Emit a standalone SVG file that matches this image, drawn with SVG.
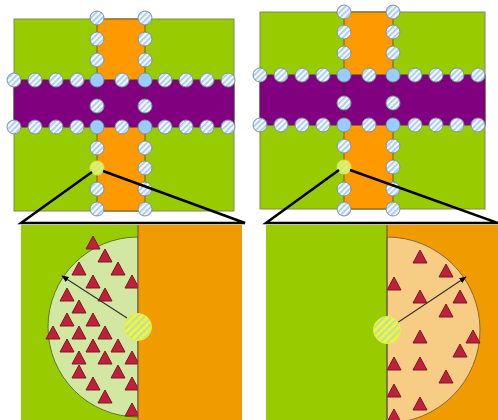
<svg xmlns="http://www.w3.org/2000/svg" xmlns:xlink="http://www.w3.org/1999/xlink" width="498" height="420" viewBox="0 0 498 420">
<style>
.green{fill:#99cc00;stroke:#7a8a5a;stroke-width:1}
.orange{fill:#ff9900;stroke:#6a5a30;stroke-width:1}
.orange2{fill:#f09b00}
.purple{fill:#800080;stroke:#4a2a4a;stroke-width:1}
.node{fill:url(#hatch);stroke:#8090a0;stroke-width:1}
.solid{fill:#99ccff;stroke:#8090a0;stroke-width:1}
.ysmall{fill:url(#yhatchS);stroke:#d8e860;stroke-width:1}
.ybig{fill:url(#yhatch);stroke:#e8f040;stroke-width:1}
.zoom{stroke:#000;stroke-width:2.5;fill:none}
.tri{fill:#c0203c;stroke:#7a1a24;stroke-width:1}
.arrow{stroke:#333;stroke-width:1.2;fill:none;marker-end:url(#ah)}
</style>
<defs>
<pattern id="hatch" patternUnits="userSpaceOnUse" width="4" height="4" patternTransform="rotate(-45)">
<rect width="4" height="4" fill="#f4f8ff"/>
<rect width="4" height="1.8" fill="#a9cdea"/>
</pattern>
<pattern id="yhatchS" patternUnits="userSpaceOnUse" width="4" height="4" patternTransform="rotate(-45)">
<rect width="4" height="4" fill="#e8f060"/>
<rect width="4" height="1.8" fill="#c8e880"/>
</pattern>
<pattern id="yhatch" patternUnits="userSpaceOnUse" width="5" height="5" patternTransform="rotate(-45)">
<rect width="5" height="5" fill="#f4f43a"/>
<rect width="5" height="2.2" fill="#b8e0a8"/>
</pattern>
<marker id="ah" viewBox="0 0 10 10" refX="9" refY="5" markerWidth="6" markerHeight="6" orient="auto">
<path d="M0,1 L10,5 L0,9 Z" fill="#000"/>
</marker>
<path id="t" d="M0,-7 L7,6 L-7,6 Z"/>
</defs>

<g id="top-left">
<rect class="green" x="14" y="19" width="220" height="192"/>
<rect class="orange" x="97" y="19" width="48" height="192"/>
<rect class="purple" x="14" y="80" width="220" height="47"/>
<line x1="97" y1="80" x2="97" y2="127" stroke="#3a2a3a" stroke-width="1"/>
<line x1="145" y1="80" x2="145" y2="127" stroke="#3a2a3a" stroke-width="1"/>
<g id="tl-nodes">
<circle class="node" cx="97" cy="18" r="7"/><circle class="node" cx="97" cy="39" r="7"/><circle class="node" cx="97" cy="60" r="7"/>
<circle class="node" cx="97" cy="106" r="7"/><circle class="node" cx="97" cy="148" r="7"/><circle class="node" cx="97" cy="189" r="7"/><circle class="node" cx="97" cy="209" r="7"/>
<circle class="node" cx="145" cy="18" r="7"/><circle class="node" cx="145" cy="39" r="7"/><circle class="node" cx="145" cy="60" r="7"/>
<circle class="node" cx="145" cy="106" r="7"/><circle class="node" cx="145" cy="148" r="7"/><circle class="node" cx="145" cy="168" r="7"/><circle class="node" cx="145" cy="189" r="7"/><circle class="node" cx="145" cy="209" r="7"/>
<circle class="node" cx="14" cy="80" r="7"/><circle class="node" cx="35" cy="80" r="7"/><circle class="node" cx="56" cy="80" r="7"/><circle class="node" cx="77" cy="80" r="7"/><circle class="node" cx="122" cy="80" r="7"/><circle class="node" cx="165" cy="80" r="7"/><circle class="node" cx="186" cy="80" r="7"/><circle class="node" cx="207" cy="80" r="7"/><circle class="node" cx="228" cy="80" r="7"/>
<circle class="node" cx="14" cy="127" r="7"/><circle class="node" cx="35" cy="127" r="7"/><circle class="node" cx="56" cy="127" r="7"/><circle class="node" cx="77" cy="127" r="7"/><circle class="node" cx="122" cy="127" r="7"/><circle class="node" cx="165" cy="127" r="7"/><circle class="node" cx="186" cy="127" r="7"/><circle class="node" cx="207" cy="127" r="7"/><circle class="node" cx="228" cy="127" r="7"/>
<circle class="solid" cx="97" cy="80" r="7"/><circle class="solid" cx="145" cy="80" r="7"/><circle class="solid" cx="97" cy="127" r="7"/><circle class="solid" cx="145" cy="127" r="7"/>
<circle class="ysmall" cx="97" cy="168" r="7"/>
</g>
</g>

<g id="top-right">
<rect class="green" x="260" y="12" width="225" height="197"/>
<rect class="orange" x="344" y="12" width="49" height="197"/>
<rect class="purple" x="260" y="75" width="225" height="50"/>
<line x1="344" y1="75" x2="344" y2="125" stroke="#3a2a3a" stroke-width="1"/>
<line x1="393" y1="75" x2="393" y2="125" stroke="#3a2a3a" stroke-width="1"/>
<g id="tr-nodes">
<circle class="node" cx="344" cy="12" r="7"/><circle class="node" cx="344" cy="32" r="7"/><circle class="node" cx="344" cy="53" r="7"/>
<circle class="node" cx="344" cy="103" r="7"/><circle class="node" cx="344" cy="146" r="7"/><circle class="node" cx="344" cy="189" r="7"/><circle class="node" cx="344" cy="209" r="7"/>
<circle class="node" cx="393" cy="12" r="7"/><circle class="node" cx="393" cy="32" r="7"/><circle class="node" cx="393" cy="53" r="7"/>
<circle class="node" cx="393" cy="103" r="7"/><circle class="node" cx="393" cy="146" r="7"/><circle class="node" cx="393" cy="167" r="7"/><circle class="node" cx="393" cy="189" r="7"/><circle class="node" cx="393" cy="209" r="7"/>
<circle class="node" cx="260" cy="75" r="7"/><circle class="node" cx="281" cy="75" r="7"/><circle class="node" cx="302" cy="75" r="7"/><circle class="node" cx="323" cy="75" r="7"/><circle class="node" cx="369" cy="75" r="7"/><circle class="node" cx="415" cy="75" r="7"/><circle class="node" cx="436" cy="75" r="7"/><circle class="node" cx="457" cy="75" r="7"/><circle class="node" cx="478" cy="75" r="7"/>
<circle class="node" cx="260" cy="125" r="7"/><circle class="node" cx="281" cy="125" r="7"/><circle class="node" cx="302" cy="125" r="7"/><circle class="node" cx="323" cy="125" r="7"/><circle class="node" cx="369" cy="125" r="7"/><circle class="node" cx="415" cy="125" r="7"/><circle class="node" cx="436" cy="125" r="7"/><circle class="node" cx="457" cy="125" r="7"/><circle class="node" cx="478" cy="125" r="7"/>
<circle class="solid" cx="344" cy="75" r="7"/><circle class="solid" cx="393" cy="75" r="7"/><circle class="solid" cx="344" cy="125" r="7"/><circle class="solid" cx="393" cy="125" r="7"/>
<circle class="ysmall" cx="344" cy="167" r="7"/>
</g>
</g>

<g id="bottom-left">
<rect fill="#99cc00" x="21" y="225" width="117" height="195"/>
<path d="M138,237 A90,90 0 0 0 138,417 Z" fill="#d2e8a2" stroke="#5a7a2a" stroke-width="1"/>
<g id="bl-tris">
<use href="#t" class="tri" x="93" y="243"/><use href="#t" class="tri" x="105" y="256"/><use href="#t" class="tri" x="79" y="269"/><use href="#t" class="tri" x="118" y="269"/>
<use href="#t" class="tri" x="93" y="282"/><use href="#t" class="tri" x="132" y="282"/><use href="#t" class="tri" x="67" y="295"/><use href="#t" class="tri" x="105" y="295"/>
<use href="#t" class="tri" x="79" y="307"/><use href="#t" class="tri" x="67" y="320"/><use href="#t" class="tri" x="93" y="320"/><use href="#t" class="tri" x="53" y="333"/>
<use href="#t" class="tri" x="79" y="333"/><use href="#t" class="tri" x="105" y="333"/><use href="#t" class="tri" x="67" y="346"/><use href="#t" class="tri" x="93" y="346"/>
<use href="#t" class="tri" x="118" y="346"/><use href="#t" class="tri" x="79" y="358"/><use href="#t" class="tri" x="105" y="358"/><use href="#t" class="tri" x="132" y="358"/>
<use href="#t" class="tri" x="79" y="372"/><use href="#t" class="tri" x="118" y="372"/><use href="#t" class="tri" x="93" y="384"/><use href="#t" class="tri" x="132" y="384"/>
<use href="#t" class="tri" x="105" y="397"/><use href="#t" class="tri" x="132" y="410"/>
</g>
<rect class="orange2" x="138" y="225" width="104" height="195"/>
<line x1="138" y1="225" x2="138" y2="420" stroke="#555" stroke-width="1"/>
<line class="arrow" x1="127" y1="318" x2="62" y2="276"/>
<circle class="ybig" cx="138" cy="327" r="13.5"/>
</g>

<g id="bottom-right">
<rect fill="#99cc00" x="266" y="225" width="121" height="195"/>
<rect class="orange2" x="387" y="225" width="111" height="195"/>
<path d="M387,237 A93,93 0 0 1 387,423 Z" fill="#f7cd85" stroke="#8a6a3a" stroke-width="1"/>
<g id="br-tris">
<use href="#t" class="tri" x="420" y="257"/><use href="#t" class="tri" x="446" y="271"/><use href="#t" class="tri" x="394" y="284"/><use href="#t" class="tri" x="420" y="297"/>
<use href="#t" class="tri" x="460" y="297"/><use href="#t" class="tri" x="446" y="311"/><use href="#t" class="tri" x="420" y="337"/><use href="#t" class="tri" x="473" y="337"/>
<use href="#t" class="tri" x="460" y="351"/><use href="#t" class="tri" x="394" y="364"/><use href="#t" class="tri" x="420" y="364"/><use href="#t" class="tri" x="446" y="377"/>
<use href="#t" class="tri" x="394" y="391"/><use href="#t" class="tri" x="420" y="404"/><use href="#t" class="tri" x="394" y="416"/>
</g>
<line x1="387" y1="225" x2="387" y2="420" stroke="#555" stroke-width="1"/>
<line class="arrow" x1="397" y1="323" x2="466" y2="277"/>
<circle class="ybig" cx="387" cy="330" r="13.5"/>
</g>

<g id="connectors">
<polyline class="zoom" points="92,172 21,223 245,223 103,171"/>
<polyline class="zoom" points="339,170 266,223 498,223 350,170"/>
</g>
</svg>
